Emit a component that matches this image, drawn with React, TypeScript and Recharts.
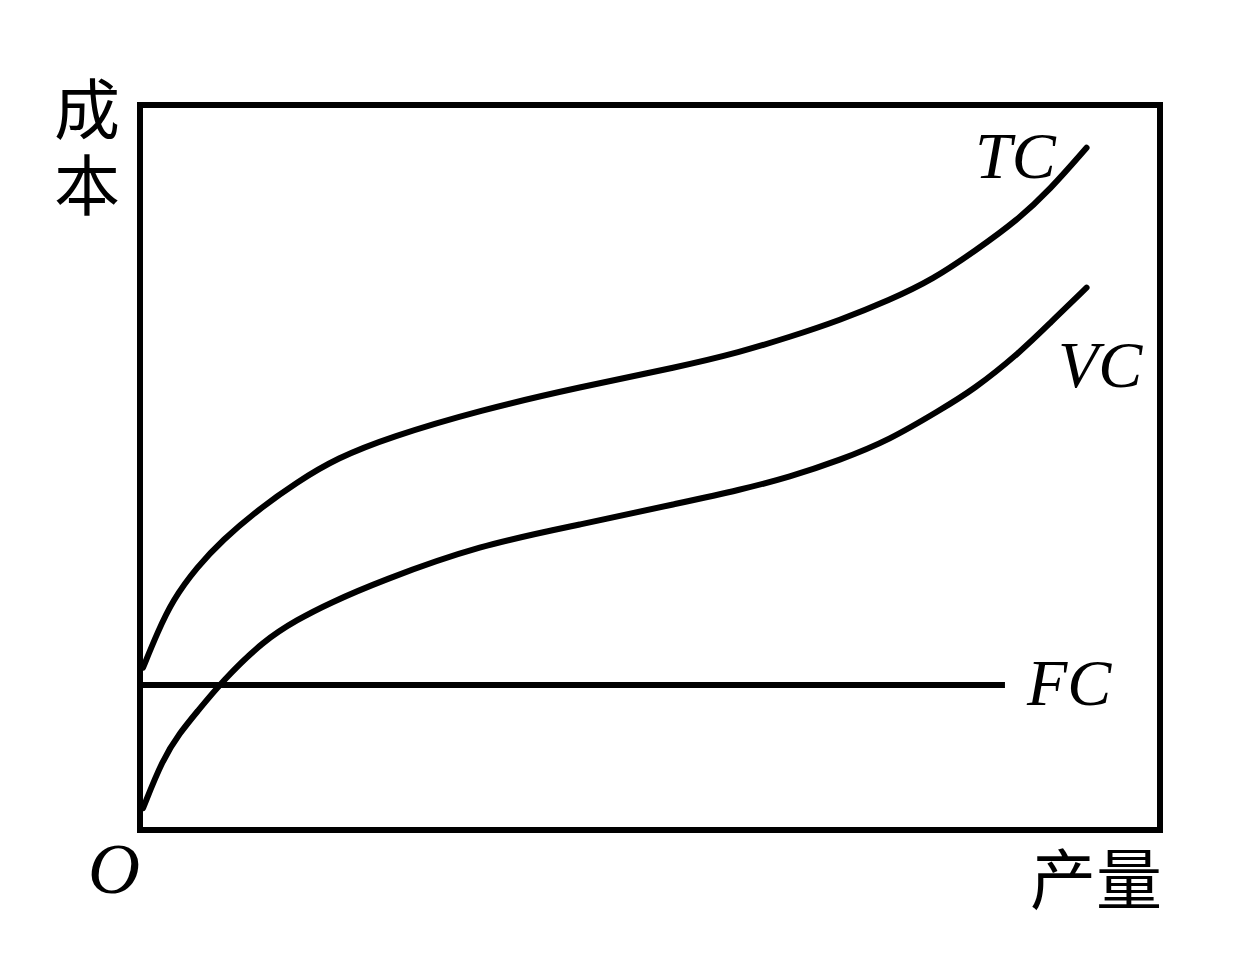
import { ComposedChart, Line, XAxis, YAxis, ReferenceArea } from 'recharts';

// output (x) and cost (y), both on a 0-100 scale
const tcX = [0.3, 1.7, 3.2, 5.6, 8.1, 11.5, 15.4, 19.3, 24.5, 33.3, 43.1, 52.9, 58.8, 63.7, 68.6, 73.5, 77.7, 82.0, 86.0, 89.2, 92.8];
const tcY = [22.4, 27.2, 31.7, 36.3, 40.0, 44.1, 48.0, 51.3, 54.2, 57.9, 61.1, 63.9, 65.9, 68.0, 70.3, 73.1, 75.9, 80.0, 84.1, 88.3, 94.1];

const vcX = [0.3, 2.2, 3.9, 5.6, 8.1, 12.1, 15.4, 18.6, 23.5, 33.3, 43.1, 52.9, 58.8, 63.7, 68.6, 73.5, 78.4, 81.7, 86.3, 89.2, 92.8];
const vcY = [3.0, 9.7, 13.4, 16.3, 20.6, 26.1, 29.0, 31.3, 34.3, 39.3, 42.1, 45.1, 46.9, 48.7, 51.0, 53.8, 57.9, 60.7, 65.9, 69.9, 74.8];

const fcX = [0, 84.8];
const fcY = [20, 20];

const toPoints = (xs: number[], ys: number[]) => xs.map((x, i) => ({ x, y: ys[i] }));

const tcData = toPoints(tcX, tcY);
const vcData = toPoints(vcX, vcY);
const fcData = toPoints(fcX, fcY);

const W = 1233;
const H = 966;

const cjk = '"Noto Sans CJK SC", sans-serif';
const serif = '"Liberation Serif", "Times New Roman", serif';

const App = () => {
  return (
    <div style={{ position: 'absolute', left: 0, top: 0, width: W, height: H, background: '#fff' }}>
      <ComposedChart
        width={W}
        height={H}
        margin={{ top: 105, right: 73, left: 140, bottom: 136 }}
      >
        <XAxis type="number" dataKey="x" domain={[0, 100]} hide />
        <YAxis type="number" dataKey="y" domain={[0, 100]} hide />
        <ReferenceArea x1={0} x2={100} y1={0} y2={100} fill="none" stroke="#000" strokeWidth={6} />
        <Line data={fcData} dataKey="y" type="linear" stroke="#000" strokeWidth={6} dot={false} isAnimationActive={false} />
        <Line data={vcData} dataKey="y" type="basis" stroke="#000" strokeWidth={6} strokeLinecap="round" dot={false} isAnimationActive={false} />
        <Line data={tcData} dataKey="y" type="basis" stroke="#000" strokeWidth={6} strokeLinecap="round" dot={false} isAnimationActive={false} />
      </ComposedChart>

      <svg width={W} height={H} style={{ position: 'absolute', left: 0, top: 0, pointerEvents: 'none' }}>
        <text
          x={87}
          y={76}
          fontFamily={cjk}
          fontSize={66}
          fill="#000"
          style={{ writingMode: 'vertical-rl', letterSpacing: 10 }}
        >
          成本
        </text>
        <text x={1030} y={904} fontFamily={cjk} fontSize={66} fill="#000">产量</text>
        <text x={88} y={893} fontFamily={serif} fontStyle="italic" fontSize={72} fill="#000">O</text>
        <text x={975} y={178} fontFamily={serif} fontStyle="italic" fontSize={66} fill="#000">TC</text>
        <text x={1058} y={387} fontFamily={serif} fontStyle="italic" fontSize={66} fill="#000">VC</text>
        <text x={1027} y={705} fontFamily={serif} fontStyle="italic" fontSize={66} fill="#000">FC</text>
      </svg>
    </div>
  );
};

export default App;
